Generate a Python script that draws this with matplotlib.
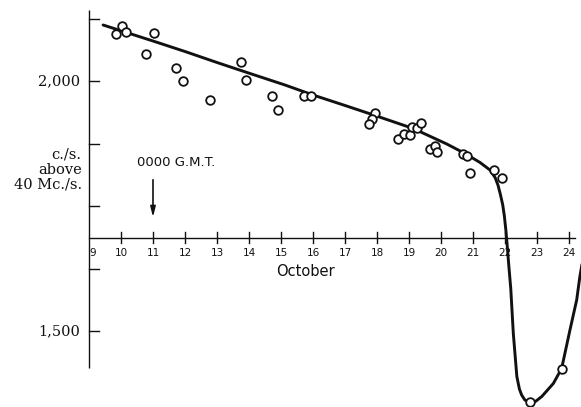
import matplotlib
matplotlib.use("Agg")
import matplotlib.pyplot as plt

# Observed points (day of October, c./s. above 40 Mc./s.)
obs_day = [9.84, 10.04, 10.17, 10.79, 11.03, 11.73, 11.93, 12.78, 13.75, 13.91,
           14.73, 14.90, 15.73, 15.93, 17.94, 17.84, 17.75, 18.67, 18.85, 19.03,
           19.09, 19.24, 19.38, 19.66, 19.81, 19.88, 20.68, 20.82, 20.91, 21.67,
           21.90, 22.78, 23.77]
obs_cps = [2095, 2110, 2099, 2055, 2097, 2026, 2001, 1963, 2039, 2002,
           1971, 1942, 1970, 1970, 1936, 1925, 1915, 1885, 1895, 1892,
           1909, 1907, 1916, 1865, 1871, 1859, 1855, 1851, 1817, 1823,
           1807, 1359, 1425]

# Hand-drawn fitted curve
curve_day = [9.44, 11.00, 12.00, 13.00, 14.08, 15.125, 16.00, 17.05, 17.94, 19.13,
             20.18, 20.75, 21.22, 21.53, 21.69, 21.78, 21.86, 21.93, 21.98, 22.03,
             22.07, 22.12, 22.18, 22.26, 22.37, 22.45, 22.52, 22.62, 22.78, 22.95,
             23.15, 23.51, 23.77, 24.03, 24.24, 24.34, 24.45]
curve_cps = [2112, 2080, 2059, 2037, 2014, 1992, 1972, 1950, 1931, 1905,
             1874, 1855, 1837, 1822, 1807, 1792, 1772, 1752, 1730, 1700,
             1670, 1630, 1585, 1495, 1409, 1384, 1372, 1362, 1357, 1359,
             1369, 1395, 1425, 1502, 1562, 1609, 1650]

day_ticks = list(range(9, 25))
day_labels = [str(d) for d in day_ticks]
cps_ticks = [2125, 2000, 1875, 1750, 1625, 1500]
cps_labels = {2000: "2,000", 1500: "1,500"}
xaxis_level = 1687

fig = plt.figure(figsize=(5.81, 4.07), dpi=100)
ax = fig.add_axes([0, 0, 1, 1])
ax.set_xlim(6.219, 24.375)
ax.set_ylim(1348, 2162)
ax.axis("off")

ink = "#111111"
serif = "DejaVu Serif"
sans = "DejaVu Sans"

# vertical axis
ax.plot([9, 9], [1426, 2142], color=ink, lw=1.0, solid_capstyle="butt")
for t in cps_ticks:
    ax.plot([9, 9.31], [t, t], color=ink, lw=1.0)
for t, lab in cps_labels.items():
    ax.text(8.72, t, lab, ha="right", va="center", fontsize=10.5,
            family=serif, color=ink)

# axis title
for yy, s in zip([1852, 1822, 1792], ["c./s.", "above", "40 Mc./s."]):
    ax.text(8.77, yy, s, ha="right", va="center", fontsize=10.5,
            family=serif, color=ink)

# horizontal (date) axis
ax.plot([9, 24.19], [xaxis_level, xaxis_level], color=ink, lw=1.0)
for d, lab in zip(day_ticks, day_labels):
    if d > 9:
        ax.plot([d, d], [xaxis_level - 11, xaxis_level + 11], color=ink, lw=1.0)
    ax.text(d + (0.1 if d == 9 else 0), 1657, lab, ha="center", va="center",
            fontsize=7.5, family=sans, color=ink)
ax.text(15.75, 1619, "October", ha="center", va="center", fontsize=10.5,
        family=sans, color=ink)

# annotation
ax.text(10.49, 1837, "0000 G.M.T.", ha="left", va="center", fontsize=9.5,
        family=sans, color=ink)
ax.annotate("", xy=(11.0, 1722), xytext=(11.0, 1808),
            arrowprops=dict(arrowstyle="-|>,head_length=0.6,head_width=0.15",
                            color=ink, lw=1.2))

# fitted curve and observations
ax.plot(curve_day, curve_cps, color=ink, lw=2.1, solid_joinstyle="round",
        solid_capstyle="round")
ax.plot(obs_day, obs_cps, linestyle="none", marker="o", ms=6.2,
        mfc="white", mec=ink, mew=1.3)

fig.savefig("out.png", dpi=100)
